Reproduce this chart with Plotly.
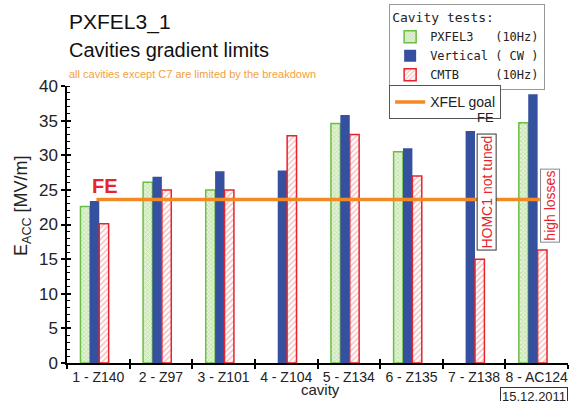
import plotly.graph_objects as go

# ---- data ----
cavities = ["1 - Z140", "2 - Z97", "3 - Z101", "4 - Z104", "5 - Z134", "6 - Z135", "7 - Z138", "8 - AC124"]
pxfel3 = [22.6, 26.1, 25.0, None, 34.6, 30.5, None, 34.7]
vertical = [23.4, 26.9, 27.7, 27.8, 35.8, 31.0, 33.5, 38.8]
cmtb = [20.1, 25.0, 25.0, 32.8, 33.0, 27.0, 15.0, 16.3]
xfel_goal = 23.6
goal_x = [-0.03, 7.05]

idx = list(range(len(cavities)))
boundaries = [i - 0.5 for i in range(len(cavities) + 1)]

FONT = "Liberation Sans, Arial, sans-serif"
MONO = "DejaVu Sans Mono, Liberation Mono, monospace"
NB = "\u00a0"

fig = go.Figure()

bw = 0.15
fig.add_trace(go.Bar(
    x=idx, y=pxfel3, width=bw, offset=-0.285,
    name="PXFEL3" + NB * 3 + "(10Hz)", legend="legend",
    marker=dict(color="#d6ecc4", line=dict(color="#6cbd45", width=1.5),
                pattern=dict(shape="x", fgcolor="#8ccc60", bgcolor="#e4f3d8", size=3, solidity=0.4)),
))
fig.add_trace(go.Bar(
    x=idx, y=vertical, width=bw, offset=-0.135,
    name="Vertical" + NB + "(" + NB + "CW" + NB + ")", legend="legend",
    marker=dict(color="#34509f", line=dict(color="#34509f", width=0)),
))
fig.add_trace(go.Bar(
    x=idx, y=cmtb, width=bw, offset=0.015,
    name="CMTB" + NB * 5 + "(10Hz)", legend="legend",
    marker=dict(color="white", line=dict(color="#e8232b", width=1.5),
                pattern=dict(shape="/", fgcolor="#f07070", bgcolor="white", size=4, solidity=0.35)),
))
fig.add_trace(go.Scatter(
    x=goal_x, y=[xfel_goal, xfel_goal], mode="lines",
    line=dict(color="#f28a24", width=3.5), name="XFEL goal", legend="legend2",
))
# helper traces so the overlay axes are drawn
fig.add_trace(go.Scatter(x=[], y=[], xaxis="x2", yaxis="y", showlegend=False, hoverinfo="skip"))
fig.add_trace(go.Scatter(x=[], y=[], xaxis="x", yaxis="y2", showlegend=False, hoverinfo="skip"))

fig.update_layout(
    width=570, height=401,
    margin=dict(l=67, r=2, t=86, b=38, autoexpand=False),
    paper_bgcolor="white", plot_bgcolor="white",
    barmode="overlay",
    font=dict(family=FONT, color="#222"),
    xaxis=dict(range=[-0.5, 7.5], tickmode="array", tickvals=idx, ticktext=cavities,
               ticks="outside", ticklen=0, showgrid=False, zeroline=False,
               showline=True, linecolor="black", linewidth=1.5,
               tickfont=dict(size=14, color="#222"),
               minor=dict(tickmode="array", tickvals=boundaries, ticks="outside", ticklen=4,
                          tickwidth=1.5, tickcolor="black", showgrid=False)),
    xaxis2=dict(range=[-0.5, 7.5], overlaying="x", anchor="y", side="bottom",
                tickmode="array", tickvals=boundaries, ticks="inside", ticklen=4, tickwidth=1.5,
                tickcolor="black", showticklabels=False, showgrid=False, zeroline=False, showline=False),
    yaxis=dict(range=[0, 40], dtick=5, ticks="outside", ticklen=4, tickwidth=1.5, tickcolor="black",
               showgrid=False, zeroline=False, showline=True, linecolor="black", linewidth=1.5,
               tickfont=dict(size=17, color="#222"),
               minor=dict(dtick=1, ticks="inside", ticklen=3, tickwidth=1, tickcolor="black", showgrid=False)),
    yaxis2=dict(range=[0, 40], dtick=5, overlaying="y", anchor="x", side="left",
                ticks="inside", ticklen=4, tickwidth=1.5, tickcolor="black",
                showticklabels=False, showgrid=False, zeroline=False, showline=False),
    legend=dict(x=0.643, y=1.295, xanchor="left", yanchor="top",
                bgcolor="white", bordercolor="#999", borderwidth=1,
                font=dict(family=MONO, size=12, color="#222"),
                title=dict(text="Cavity tests:", font=dict(family=MONO, size=13, color="#222")),
                traceorder="normal", itemwidth=30, tracegroupgap=0),
    legend2=dict(x=0.643, y=1.0025, xanchor="left", yanchor="top",
                 bgcolor="white", bordercolor="#555", borderwidth=1,
                 font=dict(family=FONT, size=14, color="#222"), itemwidth=30),
)

annotations = [
    dict(text="PXFEL3_1", xref="paper", yref="paper", x=0, y=1.230, xanchor="left", yanchor="middle",
         showarrow=False, font=dict(size=21, color="#111")),
    dict(text="Cavities gradient limits", xref="paper", yref="paper", x=0, y=1.129, xanchor="left",
         yanchor="middle", showarrow=False, font=dict(size=20, color="#111")),
    dict(text="all cavities except C7 are limited by the breakdown", xref="paper", yref="paper", x=0,
         y=1.042, xanchor="left", yanchor="middle", showarrow=False, font=dict(size=11, color="#f5a040")),
    dict(text="E<sub>ACC</sub> [MV/m]", xref="paper", yref="paper", x=-0.09, y=0.570, xanchor="center",
         yanchor="middle", textangle=-90, showarrow=False, font=dict(size=18, color="#222")),
    dict(text="cavity", xref="paper", yref="paper", x=0.505, y=-0.095, xanchor="center", yanchor="middle",
         showarrow=False, font=dict(size=15, color="#222")),
    dict(text="FE", x=0.11, y=25.5, xref="x", yref="y", showarrow=False,
         font=dict(size=20, color="#e8232b", weight="bold")),
    dict(text="FE", x=6.19, y=35.4, xref="x", yref="y", showarrow=False,
         font=dict(size=13, color="#222")),
    dict(text="HOMC1 not tuned", x=6.20, y=24.7, xref="x", yref="y", showarrow=False, textangle=-90,
         font=dict(size=14, color="#e8232b"), bgcolor="white", bordercolor="#333", borderwidth=1, borderpad=1),
    dict(text="high losses", x=7.21, y=22.7, xref="x", yref="y", showarrow=False, textangle=-90,
         font=dict(size=14, color="#e8232b"), bgcolor="white", bordercolor="#888", borderwidth=1, borderpad=1),
    dict(text="15.12.2011", xref="paper", yref="paper", x=1.0, y=-0.086, xanchor="right", yanchor="top",
         showarrow=False, font=dict(size=13, color="#222"), bgcolor="white",
         bordercolor="#333", borderwidth=1, borderpad=1),
]
fig.update_layout(annotations=annotations)

fig.write_html("out.html", config={"displayModeBar": False},
               post_script="document.body.style.margin='0';document.body.style.overflow='hidden';")
